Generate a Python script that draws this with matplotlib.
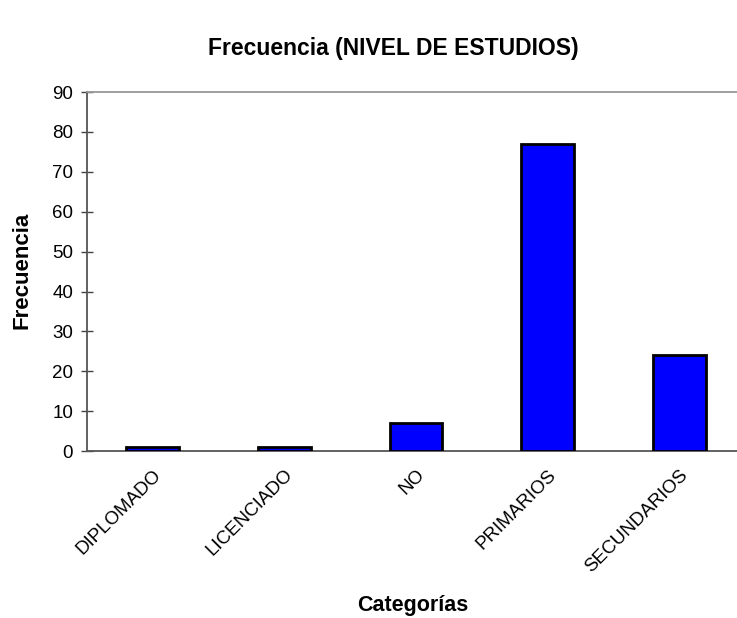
import matplotlib
matplotlib.use("Agg")
import matplotlib.pyplot as plt

plt.rcParams['font.family'] = ['Liberation Sans', 'DejaVu Sans']

categorias = ['DIPLOMADO', 'LICENCIADO', 'NO', 'PRIMARIOS', 'SECUNDARIOS']
frecuencia = [1, 1, 7, 77, 24]

fig = plt.figure(figsize=(7.37, 6.18), dpi=100)
ax = fig.add_axes([0.118, 0.270, 0.893, 0.581])

x = range(len(categorias))
ax.bar(x, frecuencia, width=0.4, color='#0000ff', edgecolor='black', linewidth=2, zorder=3)

ax.set_xlim(-0.5, len(categorias) - 0.5)
ax.set_ylim(0, 90)
ax.set_yticks(range(0, 91, 10))
ax.set_xticks(list(x))
ax.set_xticklabels(categorias, rotation=45, ha='right', rotation_mode='anchor', fontsize=13.5)
ax.tick_params(axis='x', length=0, pad=11)
ax.tick_params(axis='y', direction='inout', length=8, width=1, color='#444444', labelsize=13.5, pad=6)

ax.spines['left'].set_color('#555555')
ax.spines['left'].set_linewidth(1.3)
ax.spines['bottom'].set_color('#555555')
ax.spines['bottom'].set_linewidth(1.3)
ax.spines['top'].set_color('#999999')
ax.spines['top'].set_linewidth(1.3)
ax.spines['right'].set_visible(False)

fig.text(0.533, 0.922, 'Frecuencia (NIVEL DE ESTUDIOS)', ha='center', va='center',
         fontsize=16.5, fontweight='bold')
fig.text(0.030, 0.563, 'Frecuencia', ha='center', va='center', rotation=90,
         fontsize=16, fontweight='bold')
fig.text(0.560, 0.021, 'Categorías', ha='center', va='center', fontsize=15.5, fontweight='bold')

fig.savefig('out.png', dpi=100)
